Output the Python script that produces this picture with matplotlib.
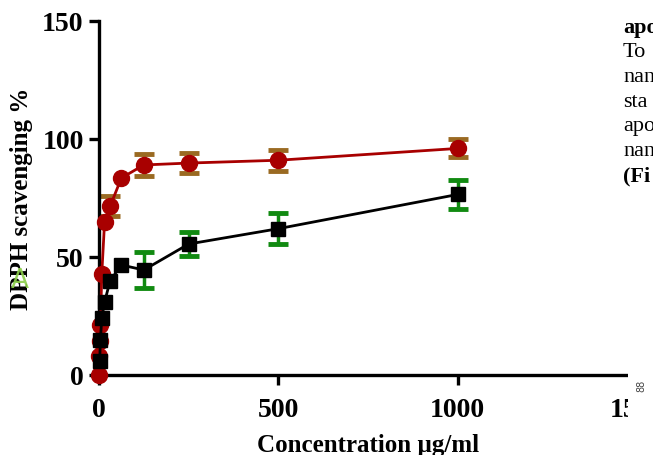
import matplotlib
matplotlib.use("Agg")
import matplotlib.pyplot as plt
from matplotlib.patches import Rectangle

plt.rcParams['font.family'] = ['Liberation Serif', 'DejaVu Serif']

# DPPH scavenging data
conc_red = [0, 0.98, 1.95, 3.9, 7.8, 15.6, 31.25, 62.5, 125, 250, 500, 1000]
scav_red = [0, 8, 14.4, 21, 43, 65, 71.6, 83.5, 89, 89.8, 91, 96]
err_red = [0, 0, 0, 0, 0, 0, 4.3, 0, 4.6, 4.2, 4.4, 3.8]

conc_black = [1.95, 3.9, 7.8, 15.6, 31.25, 62.5, 125, 250, 500, 1000]
scav_black = [6, 15, 24, 31, 40, 46.6, 44.5, 55.5, 62, 76.5]
err_black = [0, 0, 0, 0, 0, 0, 7.6, 5.0, 6.6, 6.2]

x_ticks = [0, 500, 1000, 1500]
y_ticks = [0, 50, 100, 150]

fig = plt.figure(figsize=(6.53, 4.56), dpi=100)
ax = fig.add_axes([99/653, 80/456, 538/653, 354/456])


def bars(x, y, e, color):
    # only points that actually have an error bar
    keep = [i for i in range(len(e)) if e[i] > 0]
    ax.errorbar([x[i] for i in keep], [y[i] for i in keep], yerr=[e[i] for i in keep],
                fmt='none', ecolor=color, elinewidth=2.5, capsize=7, capthick=3.5,
                zorder=2)


bars(conc_red, scav_red, err_red, '#9a6a22')
bars(conc_black, scav_black, err_black, '#118a11')
ax.plot(conc_red, scav_red, '-o', color='#a80000', lw=2, markersize=11.5, zorder=3,
        clip_on=False)
ax.plot(conc_black, scav_black, '-s', color='black', lw=2, markersize=10.5, zorder=4,
        clip_on=False)

ax.set_xlim(0, 1500)
ax.set_ylim(0, 150)
ax.set_xticks(x_ticks)
ax.set_yticks(y_ticks)
for s in ['top', 'right']:
    ax.spines[s].set_visible(False)
for s in ['left', 'bottom']:
    ax.spines[s].set_linewidth(2.4)
ax.tick_params(width=2.4, length=7, labelsize=20, pad=4)
ax.tick_params(axis='x', pad=9)
for lbl in ax.get_xticklabels() + ax.get_yticklabels():
    lbl.set_fontweight('bold')

ax.set_xlabel('Concentration µg/ml', fontsize=18, fontweight='bold')
ax.set_ylabel('DPPH scavenging %', fontsize=18, fontweight='bold')
ax.xaxis.set_label_coords(0.5, -58/354)
ax.yaxis.set_label_coords(-66/538, 0.5)

# page bits that overlap the cropped figure
fig.patches.append(Rectangle((628/653, 0), 25/653, 300/456, transform=fig.transFigure,
                             facecolor='white', edgecolor='none', zorder=10))
fig.text(641/653, 1 - 386/456, '88', rotation=90, fontsize=7, family='DejaVu Sans',
         color='#444444', ha='center', va='center', zorder=11)
fig.text(20/653, 1 - 281/456, 'A', fontsize=19, color='#8ccf4a', family='DejaVu Sans',
         alpha=0.9, ha='center', va='center', zorder=11)

lines = [('apo', 'bold'), ('To', 'normal'), ('nan', 'normal'), ('sta', 'normal'),
         ('apo', 'normal'), ('nan', 'normal'), ('(Fi', 'bold')]
for i, (t, w) in enumerate(lines):
    fig.text(623/653, 1 - (28 + i * 24.7)/456, t, fontsize=16, fontweight=w,
             ha='left', va='center', zorder=11)

fig.savefig('out.png', dpi=100)
